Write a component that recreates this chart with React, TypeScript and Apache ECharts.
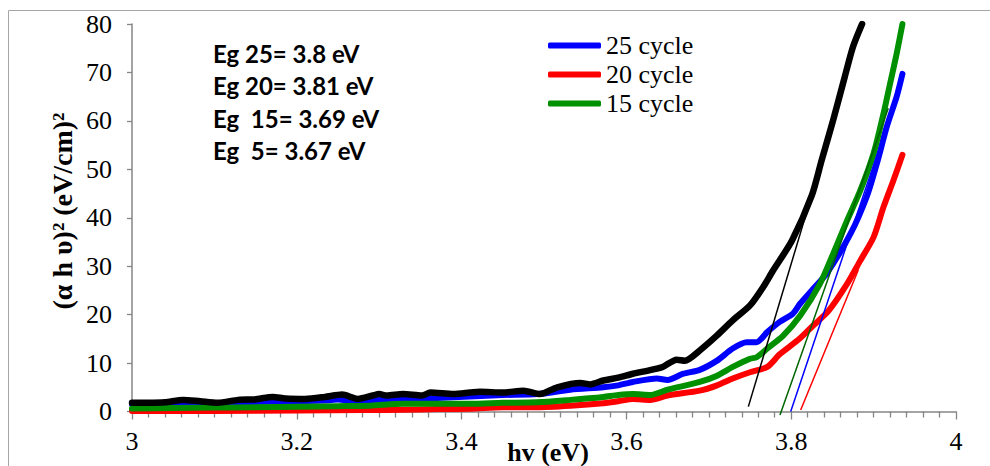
import React, { useEffect, useRef } from "react";
import * as echarts from "echarts";

// ---- data ----
const hv5 = [3.0, 3.02, 3.04, 3.062, 3.083, 3.104, 3.129, 3.149, 3.171, 3.186, 3.21, 3.234, 3.255, 3.274, 3.292, 3.3, 3.309, 3.329, 3.352, 3.362, 3.39, 3.41, 3.422, 3.45, 3.475, 3.495, 3.516, 3.544, 3.556, 3.572, 3.59, 3.608, 3.625, 3.644, 3.661, 3.671, 3.689, 3.71, 3.729, 3.75, 3.766, 3.778, 3.801, 3.825, 3.837, 3.851, 3.865, 3.875, 3.886];
const ah5 = [1.8, 1.8, 1.9, 2.4, 2.1, 1.8, 2.4, 2.5, 3.0, 2.7, 2.6, 3.0, 3.5, 2.6, 3.3, 3.6, 3.3, 3.6, 3.3, 3.9, 3.6, 3.9, 4.1, 3.9, 4.3, 3.6, 5.0, 5.9, 5.6, 6.4, 7.0, 7.8, 8.4, 9.2, 10.7, 10.5, 12.6, 15.7, 18.8, 21.9, 25.7, 29.1, 35.3, 44.6, 51.9, 60.2, 69.1, 75.3, 80.0];

const hv25 = [3.0, 3.04, 3.08, 3.12, 3.16, 3.2, 3.24, 3.25, 3.27, 3.289, 3.329, 3.37, 3.41, 3.45, 3.492, 3.532, 3.572, 3.59, 3.608, 3.637, 3.65, 3.669, 3.689, 3.71, 3.729, 3.746, 3.758, 3.771, 3.786, 3.802, 3.811, 3.825, 3.843, 3.872, 3.892, 3.904, 3.916, 3.928, 3.935];
const ah25 = [1.5, 1.6, 1.6, 1.8, 2.0, 2.1, 2.3, 2.5, 2.2, 2.3, 2.5, 2.8, 3.1, 3.4, 3.6, 4.5, 5.0, 5.4, 6.1, 6.8, 6.5, 7.8, 8.6, 10.5, 13.0, 14.3, 14.3, 16.4, 18.5, 20.2, 22.3, 25.0, 28.5, 36.7, 44.5, 51.2, 58.8, 65.0, 69.7];

const hv20 = [3.0, 3.1, 3.2, 3.28, 3.329, 3.37, 3.41, 3.45, 3.492, 3.532, 3.572, 3.59, 3.608, 3.629, 3.65, 3.689, 3.71, 3.729, 3.75, 3.771, 3.786, 3.81, 3.827, 3.845, 3.868, 3.884, 3.9, 3.912, 3.924, 3.935];
const ah20 = [0.1, 0.1, 0.2, 0.3, 0.35, 0.5, 0.55, 0.9, 0.9, 1.2, 1.7, 2.1, 2.6, 2.4, 3.3, 4.3, 5.4, 6.8, 8.1, 9.2, 11.8, 15.0, 17.8, 20.7, 26.4, 31.2, 36.0, 42.2, 47.7, 53.0];

const hv15 = [3.0, 3.05, 3.1, 3.15, 3.2, 3.25, 3.289, 3.329, 3.37, 3.41, 3.45, 3.492, 3.532, 3.572, 3.59, 3.608, 3.629, 3.65, 3.689, 3.71, 3.729, 3.75, 3.758, 3.771, 3.79, 3.811, 3.835, 3.851, 3.868, 3.884, 3.9, 3.912, 3.92, 3.928, 3.935];
const ah15 = [0.6, 0.7, 0.8, 0.9, 1.0, 1.1, 1.2, 1.6, 1.6, 1.6, 1.8, 1.9, 2.4, 3.0, 3.4, 3.6, 3.4, 4.5, 6.1, 7.4, 9.2, 10.9, 11.2, 13.0, 15.6, 19.8, 26.4, 32.6, 39.5, 45.7, 53.3, 61.5, 67.7, 73.9, 80.0];

// tangent (band-gap) lines: [hv start, hv end] and [value start, value end]
const tan5X = [3.748, 3.8208];
const tan5Y = [1.0, 42.3];
const tan25X = [3.7994, 3.917];
const tan25Y = [0.0, 59.5];
const tan20X = [3.8115, 3.8814];
const tan20Y = [0.3, 29.2];
const tan15X = [3.7864, 3.9178];
const tan15Y = [-0.7, 62.6];

const legendNames = ["25 cycle", "20 cycle", "15 cycle"];
const egLabels = ["Eg 25= 3.8 eV", "Eg 20= 3.81 eV", "Eg  15= 3.69 eV", "Eg  5= 3.67 eV"];
const xName = "hv (eV)";
const yName = "(\u03b1 h \u03c5)\u00b2 (eV/cm)\u00b2";

const pairs = (xs: number[], ys: number[]) => xs.map((x, i) => [x, ys[i]]);

const SERIF = "Liberation Serif";

export default function App() {
  const ref = useRef<HTMLDivElement>(null);
  useEffect(() => {
    if (!ref.current) return;
    const chart = echarts.init(ref.current, undefined, { renderer: "svg" });

    const thick = (name: string, color: string, xs: number[], ys: number[], z: number, w: number) => ({
      type: "line",
      name,
      data: pairs(xs, ys),
      symbol: "none",
      showSymbol: false,
      smooth: 0.25,
      z,
      itemStyle: { color },
      lineStyle: { color, width: w, cap: "round", join: "round" },
    });
    const thin = (color: string, xs: number[], ys: number[]) => ({
      type: "line",
      name: "tangent",
      data: pairs(xs, ys),
      symbol: "none",
      showSymbol: false,
      clip: false,
      z: 10,
      itemStyle: { color },
      lineStyle: { color, width: 1.5 },
    });

    const axisGray = "#868686";
    const tickRich = { t: { fontFamily: SERIF, fontSize: 26, color: "#000" } };
    const tickFmt = (v: number) => `{t|${v}}`;

    chart.setOption({
      animation: false,
      textStyle: { fontFamily: SERIF },
      grid: { left: 132, right: 34, top: 24, bottom: 54.5, containLabel: false },
      legend: {
        data: legendNames,
        orient: "vertical",
        left: 548,
        top: 32.5,
        padding: 0,
        itemWidth: 53,
        itemHeight: 6,
        itemGap: 3,
        icon: "roundRect",
        textStyle: { fontFamily: SERIF, fontSize: 26, color: "#000", lineHeight: 26 },
      },
      xAxis: {
        type: "value",
        min: 3,
        max: 4,
        interval: 0.2,
        axisLine: { show: true, lineStyle: { color: axisGray, width: 1.5 } },
        axisTick: { show: true, length: 8, lineStyle: { color: axisGray, width: 1.3 } },
        minorTick: { show: true, splitNumber: 10, length: 6, lineStyle: { color: axisGray, width: 1.3 } },
        splitLine: { show: false },
        minorSplitLine: { show: false },
        axisLabel: { fontFamily: SERIF, fontSize: 26, color: "#000", margin: 17, formatter: tickFmt, rich: tickRich },
      },
      yAxis: {
        type: "value",
        min: 0,
        max: 80,
        interval: 10,
        axisLine: { show: true, lineStyle: { color: axisGray, width: 1.5 } },
        axisTick: { show: true, length: 5, lineStyle: { color: axisGray, width: 1.3 } },
        splitLine: { show: false },
        axisLabel: { fontFamily: SERIF, fontSize: 26, color: "#000", margin: 20, formatter: tickFmt, rich: tickRich },
      },
      graphic: [
        {
          type: "rect",
          shape: { x: 8.5, y: 10.5, width: 1100, height: 600 },
          style: { fill: "none", stroke: "#a6a6a6", lineWidth: 1 },
          silent: true,
          z: -10,
        },
        ...egLabels.map((t, i) => ({
          type: "text",
          x: 213,
          y: 53 + i * 32.5,
          style: {
            text: t,
            fontFamily: "Lato",
            fontWeight: "bold",
            fontSize: 24,
            fill: "#000",
            align: "left",
            verticalAlign: "middle",
          },
        })),
        {
          type: "text",
          x: 548,
          y: 452,
          style: {
            text: xName,
            fontFamily: SERIF,
            fontWeight: "bold",
            fontSize: 26,
            fill: "#000",
            align: "center",
            verticalAlign: "middle",
          },
        },
        {
          type: "text",
          x: 62,
          y: 211,
          rotation: Math.PI / 2,
          style: {
            text: yName,
            fontFamily: SERIF,
            fontWeight: "bold",
            fontSize: 28,
            fill: "#000",
            align: "center",
            verticalAlign: "middle",
          },
        },
      ],
      series: [
        thick("20 cycle", "#ff0000", hv20, ah20, 2, 6),
        thick("25 cycle", "#0000ff", hv25, ah25, 3, 6),
        thick("15 cycle", "#009000", hv15, ah15, 4, 6),
        thick("5 cycle", "#000000", hv5, ah5, 5, 6.5),
        thin("#000000", tan5X, tan5Y),
        thin("#0000ff", tan25X, tan25Y),
        thin("#ff0000", tan20X, tan20Y),
        thin("#006400", tan15X, tan15Y),
      ],
    });
    return () => chart.dispose();
  }, []);
  return (
    <div
      ref={ref}
      style={{ position: "fixed", left: 0, top: 0, width: 990, height: 466, background: "#fff" }}
    />
  );
}
